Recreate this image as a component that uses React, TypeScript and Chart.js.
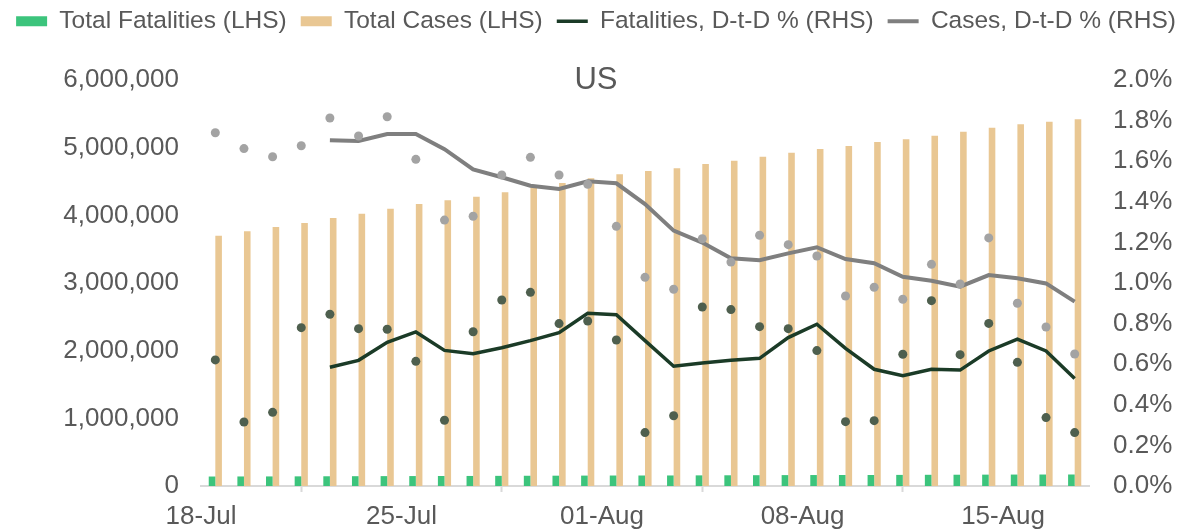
import React, { useEffect, useRef } from "react";
import { Chart, registerables } from "chart.js";

Chart.register(...registerables);

// ---- Data ----
const days = [
  "18-Jul", "19-Jul", "20-Jul", "21-Jul", "22-Jul", "23-Jul", "24-Jul", "25-Jul",
  "26-Jul", "27-Jul", "28-Jul", "29-Jul", "30-Jul", "31-Jul", "01-Aug", "02-Aug",
  "03-Aug", "04-Aug", "05-Aug", "06-Aug", "07-Aug", "08-Aug", "09-Aug", "10-Aug",
  "11-Aug", "12-Aug", "13-Aug", "14-Aug", "15-Aug", "16-Aug", "17-Aug",
];

const xTickLabels = ["18-Jul", "25-Jul", "01-Aug", "08-Aug", "15-Aug"];
const xTickDayIndex = [0, 7, 14, 21, 28];

const totalCases = [
  3699000, 3764000, 3827000, 3886000, 3960000, 4024000, 4098000, 4167000,
  4222000, 4276000, 4340000, 4414000, 4478000, 4547000, 4606000, 4655000,
  4695000, 4758000, 4808000, 4867000, 4926000, 4980000, 5024000, 5083000,
  5123000, 5177000, 5236000, 5295000, 5345000, 5384000, 5419000,
];

const totalFatalities = [
  140100, 141000, 141500, 142600, 143800, 144900, 146000, 146900,
  147400, 148500, 149900, 151300, 152500, 153700, 154800, 155200,
  155700, 157100, 158400, 159600, 160900, 162000, 162500, 163000,
  164100, 165600, 166700, 168000, 169000, 169600, 170000,
];

// daily day-to-day % changes (dots)
const casesDtD = [
  1.74, 1.662, 1.622, 1.676, 1.813, 1.724, 1.819, 1.609, 1.31, 1.329, 1.532,
  1.619, 1.532, 1.486, 1.279, 1.028, 0.969, 1.218, 1.103, 1.235, 1.189, 1.133,
  0.936, 0.979, 0.92, 1.092, 0.995, 1.222, 0.9, 0.783, 0.65,
];

const fatalitiesDtD = [
  0.621, 0.315, 0.363, 0.78, 0.846, 0.775, 0.772, 0.614, 0.324, 0.76, 0.916,
  0.954, 0.8, 0.813, 0.719, 0.263, 0.346, 0.882, 0.869, 0.785, 0.775, 0.667,
  0.317, 0.322, 0.649, 0.913, 0.647, 0.801, 0.609, 0.337, 0.263,
];

// smoothed day-to-day % (lines)
const casesDtDLine = [
  null, null, null, null, 1.703, 1.7, 1.734, 1.734, 1.659, 1.56, 1.521, 1.479,
  1.463, 1.501, 1.491, 1.389, 1.258, 1.199, 1.122, 1.112, 1.146, 1.176, 1.118,
  1.097, 1.031, 1.011, 0.982, 1.039, 1.023, 0.998, 0.908,
];

const fatalitiesDtDLine = [
  null, null, null, null, 0.585, 0.619, 0.708, 0.759, 0.668, 0.652, 0.681,
  0.716, 0.755, 0.851, 0.844, 0.716, 0.59, 0.606, 0.619, 0.629, 0.731, 0.797,
  0.678, 0.575, 0.543, 0.575, 0.571, 0.665, 0.724, 0.665, 0.53,
];

const TEXT = "#595959";
const FONT = "'Liberation Sans', Arial, Helvetica, sans-serif";

const pts = (arr: (number | null)[]) => arr.map((y, i) => ({ x: i, y }));

export default function App() {
  const ref = useRef<HTMLCanvasElement | null>(null);

  useEffect(() => {
    document.body.style.margin = "0";
    const canvas = ref.current;
    if (!canvas) return;

    const chart = new Chart(canvas, {
      type: "bar",
      data: {
        datasets: [
          {
            type: "bar",
            label: "Total Fatalities (LHS)",
            data: pts(totalFatalities),
            backgroundColor: "#3CC47C",
            borderWidth: 0,
            yAxisID: "y",
            order: 2,
            pointStyle: "rect",
          },
          {
            type: "bar",
            label: "Total Cases (LHS)",
            data: pts(totalCases),
            backgroundColor: "#E9C793",
            borderWidth: 0,
            yAxisID: "y",
            order: 2,
            pointStyle: "rect",
          },
          {
            type: "line",
            label: "Fatalities, D-t-D % (RHS)",
            data: pts(fatalitiesDtDLine),
            borderColor: "#1B3B27",
            backgroundColor: "#1B3B27",
            borderWidth: 3.5,
            pointRadius: 0,
            tension: 0,
            yAxisID: "y1",
            order: 1,
            pointStyle: "line",
          },
          {
            type: "line",
            label: "Cases, D-t-D % (RHS)",
            data: pts(casesDtDLine),
            borderColor: "#7F7F7F",
            backgroundColor: "#7F7F7F",
            borderWidth: 4,
            pointRadius: 0,
            tension: 0,
            yAxisID: "y1",
            order: 1,
            pointStyle: "line",
          },
          {
            type: "line",
            label: "Fatalities daily",
            data: pts(fatalitiesDtD),
            showLine: false,
            pointRadius: 4.5,
            pointBorderWidth: 0,
            pointBackgroundColor: "#4E5F4E",
            borderColor: "#4E5F4E",
            yAxisID: "y1",
            order: 0,
          },
          {
            type: "line",
            label: "Cases daily",
            data: pts(casesDtD),
            showLine: false,
            pointRadius: 4.5,
            pointBorderWidth: 0,
            pointBackgroundColor: "#A3A3A3",
            borderColor: "#A3A3A3",
            yAxisID: "y1",
            order: 0,
          },
        ],
      },
      options: {
        responsive: false,
        animation: false,
        layout: { padding: { top: -5, left: 0, right: 0, bottom: 0 } },
        datasets: {
          bar: { categoryPercentage: 0.46, barPercentage: 1 },
        },
        plugins: {
          legend: {
            position: "top",
            labels: {
              usePointStyle: true,
              pointStyleWidth: 31,
              boxHeight: 10,
              padding: 14,
              color: TEXT,
              font: { family: FONT, size: 24.5 },
              filter: (item: any) => item.datasetIndex < 4,
              sort: (a: any, b: any) => a.datasetIndex - b.datasetIndex,
            },
          },
          title: {
            display: true,
            text: "US",
            color: TEXT,
            weight: 500,
            font: { family: FONT, size: 31, weight: "normal" },
            padding: { top: 18.4, bottom: -19.1 },
          },
          tooltip: { enabled: false },
        },
        scales: {
          x: {
            type: "linear",
            min: -0.5,
            max: days.length - 0.5,
            offset: false,
            afterBuildTicks: (scale: any) => {
              scale.ticks = xTickDayIndex.map((d) => ({ value: d - 0.5 }));
            },
            afterFit: (scale: any) => {
              scale.height = 46;
            },
            ticks: {
              autoSkip: false,
              maxRotation: 0,
              padding: 9,
              color: TEXT,
              font: { family: FONT, size: 26 },
              callback: (value: any) => {
                const idx = xTickDayIndex.indexOf(Math.round(Number(value) + 0.5));
                return idx >= 0 ? xTickLabels[idx] : "";
              },
            },
            grid: {
              drawOnChartArea: false,
              drawTicks: true,
              tickLength: 6,
              tickWidth: 2,
              tickColor: "#D9D9D9",
            },
            border: { display: true, color: "#D9D9D9", width: 2 },
          },
          y: {
            type: "linear",
            position: "left",
            min: 0,
            max: 6000000,
            afterFit: (scale: any) => {
              scale.width = 201;
            },
            ticks: {
              stepSize: 1000000,
              padding: 22,
              color: TEXT,
              font: { family: FONT, size: 26 },
              callback: (v: any) => Number(v).toLocaleString("en-US"),
            },
            grid: { display: false, drawTicks: false },
            border: { display: false },
          },
          y1: {
            type: "linear",
            position: "right",
            min: 0,
            max: 2,
            afterFit: (scale: any) => {
              scale.width = 103;
            },
            ticks: {
              stepSize: 0.2,
              padding: 24,
              color: TEXT,
              font: { family: FONT, size: 26 },
              callback: (v: any) => Number(v).toFixed(1) + "%",
            },
            grid: { display: false, drawTicks: false },
            border: { display: false },
          },
        },
      },
    } as any);

    return () => chart.destroy();
  }, []);

  return (
    <div style={{ width: 1192, height: 532, background: "#fff" }}>
      <canvas ref={ref} width={1192} height={532} style={{ display: "block" }} />
    </div>
  );
}
